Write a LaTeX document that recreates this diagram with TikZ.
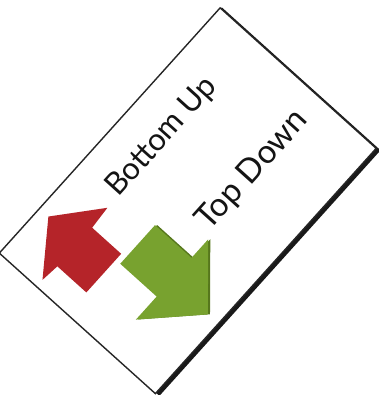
\documentclass[tikz,border=0pt]{standalone}
\usepackage{fontspec}
\setmainfont{Lato}
\definecolor{arrowred}{HTML}{B52429}
\definecolor{arrowgreen}{HTML}{78A22F}
\definecolor{arrowgreendark}{HTML}{56771C}
\tikzset{
  cardshadow/.style={fill=black!90},
  cardbody/.style={fill=white,draw=black!85,line width=1.4pt,line join=miter},
  label/.style={font=\fontsize{31}{31}\selectfont,inner sep=0pt,text=black!92,transform shape},
}
\begin{document}
\begin{tikzpicture}[x=1pt,y=1pt]
\useasboundingbox (0,0) rectangle (378,395);
\begin{scope}[shift={(187.75,194.25)},rotate=48]
  % card with shadow
  \fill[cardshadow] (-164,-109.5) rectangle (166.5,104);
  \path[cardbody] (-165,-105) rectangle (165,105);
  % red arrow (up)
  \fill[arrowred] (-136,14) -- (-84,14) -- (-84,53) -- (-59,55) -- (-105,93)
     -- (-156,55) -- (-136,53) -- cycle;
  % green arrow (down)
  \fill[arrowgreendark] (-90.5,6.5) -- (-38.5,6.5) -- (-38.5,-42.5) -- (-13.5,-42.5)
     -- (-69.5,-92.5) -- (-121.5,-42.5) -- (-90.5,-42.5) -- cycle;
  \fill[arrowgreen] (-92,8) -- (-40,8) -- (-40,-41) -- (-15,-41) -- (-71,-91)
     -- (-123,-41) -- (-92,-41) -- cycle;
  % texts
  \node[label] (bu) at (30,62) {Bottom Up};
  \node[label,font=\fontsize{33}{33}\selectfont] (td) at (66,-28) {Top Down};
\end{scope}
\end{tikzpicture}
\end{document}
